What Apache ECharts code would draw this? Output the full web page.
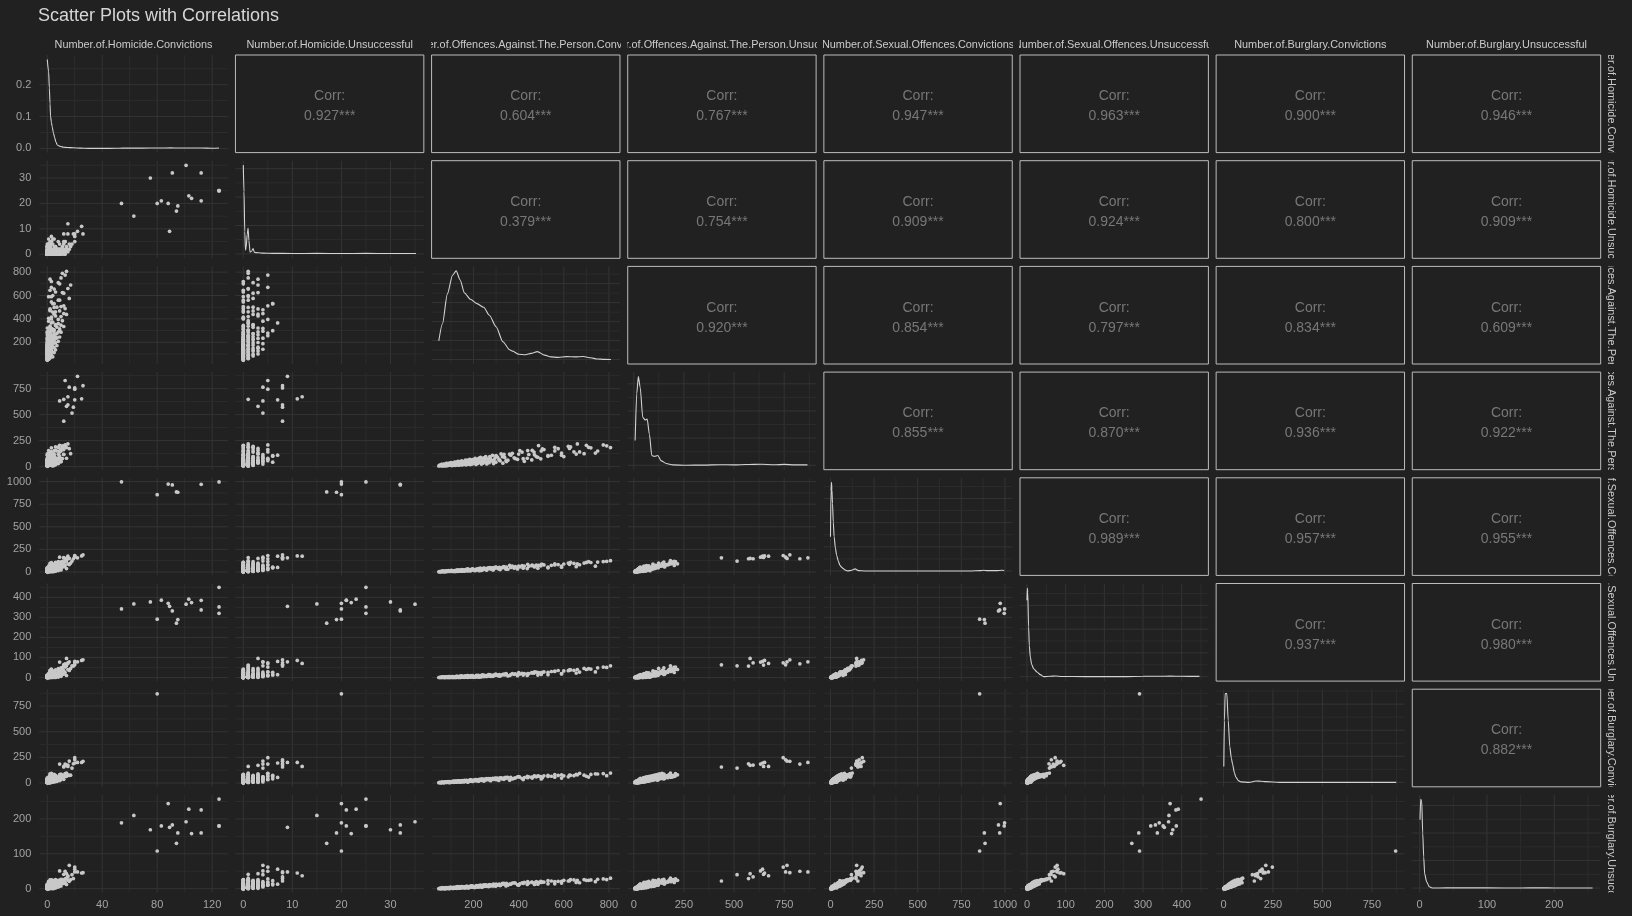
<!DOCTYPE html>
<html><head><meta charset="utf-8">
<script src="https://cdn.jsdelivr.net/npm/echarts@6/dist/echarts.min.js"></script>
<style>html,body{margin:0;padding:0;background:#212121;}#c{width:1632px;height:916px;}</style>
</head><body><div id="c"></div>
<script>
// ---------------- DATA ----------------
const varNames = ['Number.of.Homicide.Convictions','Number.of.Homicide.Unsuccessful',
  'Number.of.Offences.Against.The.Person.Convictions','Number.of.Offences.Against.The.Person.Unsuccessful',
  'Number.of.Sexual.Offences.Convictions','Number.of.Sexual.Offences.Unsuccessful',
  'Number.of.Burglary.Convictions','Number.of.Burglary.Unsuccessful'];

const homicideConvictions = [
  54,63,75,80,83,88,89,91,94,95,101,103,105,112,112,125,125,125,
  12,18,19,14,15,9,20,12,25,15,20,20,16,26,13,22,
  0,0,1,0,0,0,1,0,0,2,0,1,0,0,1,
  0,0,1,0,0,2,0,1,0,0,3,0,1,0,0,2,0,1,0,0,
  1,0,2,0,1,0,3,0,1,0,2,0,4,1,0,
  2,0,3,1,5,0,2,1,4,0,3,6,1,
  2,5,0,1,7,2,0,8,3,1,
  5,9,0,7,2,10,
  3,11,1,6,12,
  4,9,2,13,5,12,
  3,16,4,11,2,
  15,17,3,10,13,14,
  3,5,2,6,1,4,7,2,5,8,3,6,9,4,2,10,5,3,12,6,4,8,3,14,6,2,10,5,8,3,12,5,9,2,11,2,4,0,3,1,
  0,1,0,2,0,1,3,0,1,0, 2,0,1,4,0,2,1,0,3,1, 0,5,2,0,1,3,0,6,2,1, 4,0,7,2,3,1,5,0,9,4, 2,6,8,1,3,10,5,2,7,4, 9,1,6,3,8,0,2,1,0,3];
const homicideUnsuccessful = [
  20,15,30,20,21,20,9,32,17,19,35,23,22,21,32,25,25,25,
  8,4,8,3,8,4,7,1,11,12,5,8,4,8,5,9,
  0,0,0,0,1,0,0,0,0,0,1,0,0,0,2,
  0,0,0,1,0,0,0,0,1,0,0,0,0,2,0,1,0,0,0,1,
  0,0,3,0,0,1,0,0,2,0,0,1,0,0,3,
  0,1,0,0,2,0,1,0,4,0,1,0,2,
  0,1,3,0,2,5,1,0,4,6,
  1,0,3,0,1,2,
  7,1,0,3,4,
  0,2,4,0,1,5,
  0,2,1,3,0,
  1,3,0,1,5,1,
  1,0,2,0,3,0,1,0,2,0,1,3,0,1,2,0,1,4,0,2,1,5,0,2,1,3,0,6,1,0,2,1,0,3,1,0,1,3,0,4,
  0,0,1,0,0,0,2,0,0,1, 0,0,0,1,0,3,0,1,0,0, 2,0,0,1,0,0,4,0,1,0, 0,2,0,1,5,0,0,3,1,0, 2,0,1,4,0,1,3,0,2,6, 0,1,0,5,2,1,0,0,1,0];
const personConvictions = [
  null,null,null,null,null,null,null,null,null,null,null,null,null,null,null,null,null,null,
  null,null,null,null,null,null,null,null,null,null,null,null,null,null,null,null,
  46,50,55,58,62,66,70,73,77,80,84,88,91,95,98,
  101,104,106,109,112,114,117,119,122,124,127,129,132,134,137,139,142,144,147,149,
  152,155,158,161,164,167,170,173,176,179,183,186,190,194,198,
  203,207,211,215,219,223,227,231,235,239,243,247,249,
  254,259,264,269,274,279,284,289,294,299,
  306,314,322,330,338,346,
  365,385,405,425,445,
  458,468,478,488,498,512,
  545,575,600,625,645,
  660,690,720,750,775,807,
  88,112,125,135,148,160,172,185,195,208,221,233,245,258,272,286,300,318,335,352,372,395,415,438,460,485,505,530,560,590,620,655,700,740,790,68,75,100,118,140,
  52,57,63,69,74,79,83,87,92,96, 102,107,111,116,121,126,131,136,141,146, 151,156,162,168,174,181,188,196,205,213, 222,230,238,246,256,266,276,288,298,312, 328,344,360,380,400,420,440,470,500,530, 560,590,630,670,710,60,95,130,175,225];
const personUnsuccessful = [
  null,null,null,null,null,null,null,null,null,null,null,null,null,null,null,null,null,null,
  437,515,572,580,595,632,642,647,652,672,745,757,764,778,828,868,
  6,15,11,22,6,17,10,22,15,30,8,23,13,29,20,
  38,10,28,15,34,23,44,12,32,17,38,26,50,13,36,19,43,29,56,15,
  40,22,47,32,62,17,44,24,53,36,70,19,49,27,59,
  41,79,21,56,31,67,45,88,24,62,34,74,50,
  97,26,69,38,82,56,108,29,76,42,
  92,63,122,33,88,48,
  110,77,154,51,116,
  64,140,96,202,75,164,
  109,172,96,175,142,
  218,124,180,150,208,183,
  30,12,40,18,50,22,60,28,68,32,75,38,85,42,95,48,105,55,118,62,128,70,140,80,155,90,170,100,185,110,195,120,205,130,200,24,6,35,14,45,
  9,18,8,18,16,28,12,24,18,33, 13,29,23,41,19,37,30,45,20,37, 29,48,28,40,59,36,53,29,62,47, 73,41,64,52,79,43,72,58,101,72, 95,58,119,84,120,76,154,113,150,106, 151,130,189,141,185,18,14,47,23,81];
const sexualConvictions = [
  998,null,null,855,null,973,null,963,886,882,null,null,null,null,970,null,null,996,
  157,120,146,150,146,164,175,160,178,175,182,164,150,190,146,157,
  2,4,3,5,6,4,7,5,8,6,9,7,10,8,11,
  9,12,10,7,13,11,8,14,10,12,15,9,13,16,11,14,17,12,18,15,
  13,19,16,20,14,21,17,22,18,24,19,25,21,26,23,
  27,22,29,25,31,24,33,28,35,30,37,32,39,
  34,41,36,43,38,45,40,47,42,49,
  44,51,46,53,48,55,
  50,60,56,65,62,
  70,66,75,72,68,78,
  74,82,88,85,95,
  90,98,105,110,115,125,
  14,5,20,8,25,10,30,12,34,15,38,17,42,20,48,22,52,26,58,30,64,34,70,38,76,42,84,46,90,52,98,58,106,64,118,10,3,16,6,22,
  4,3,8,3,7,13,5,8,12,5, 17,7,11,16,6,14,24,10,17,13, 9,23,16,30,12,24,17,31,16,30, 24,44,19,37,26,45,33,26,54,34, 49,31,72,42,64,42,84,56,85,53, 78,65,107,80,114,9,13,7,35,14];
const sexualUnsuccessful = [
  342,367,377,291,386,370,355,332,271,289,366,391,374,385,337,450,352,320,
  63,58,57,95,73,77,80,62,85,70,73,63,78,88,68,78,
  0,1,0,1,0,2,1,0,1,2,1,0,2,1,3,
  1,2,0,1,3,2,1,4,2,1,3,2,1,4,2,3,1,5,2,3,
  2,4,1,5,3,2,6,3,4,2,5,3,6,4,2,
  5,3,7,4,6,3,8,5,4,7,6,9,5,
  8,6,10,7,9,11,8,12,10,13,
  11,14,12,15,13,16,
  14,18,17,20,19,
  24,22,27,25,23,28,
  30,35,33,38,36,
  40,45,42,48,52,58,
  4,1,6,0,8,2,9,3,10,2,11,4,12,5,14,6,15,7,17,8,19,9,21,10,23,12,26,14,30,18,34,22,40,28,50,3,0,5,1,7,
  0,2,1,0,3,1,2,0,4,1, 2,5,1,3,0,6,2,4,1,7, 3,2,8,4,1,6,9,3,5,11, 4,7,13,5,9,15,6,11,17,8, 14,20,10,16,24,12,19,28,15,26, 32,20,38,27,44,2,0,5,10,2];
const burglaryConvictions = [
  null,null,null,870,null,null,null,null,null,null,null,null,null,null,null,null,null,null,
  156,146,188,172,175,185,195,162,201,162,247,227,214,211,185,201,
  3,4,5,4,6,5,7,6,8,7,9,8,10,9,11,
  10,9,12,11,13,10,14,12,15,11,16,13,17,14,18,12,16,19,15,20,
  17,21,18,14,22,19,23,16,24,20,25,18,26,22,28,
  24,29,21,30,26,32,28,34,25,35,31,37,29,
  38,33,40,35,42,37,44,39,46,41,
  48,43,50,45,52,47,
  54,50,58,53,61,
  57,64,60,67,62,70,
  66,74,70,78,72,
  80,76,84,88,92,97,
  6,18,9,22,12,26,15,30,18,33,20,38,24,42,28,46,32,50,36,55,40,60,44,65,48,70,52,75,56,80,60,85,66,90,72,4,10,7,16,11,
  6,2,8,4,10,5,9,13,6,14, 8,16,7,12,19,9,15,22,10,18, 24,11,20,27,13,23,30,15,26,34, 17,29,38,19,32,42,22,36,47,25, 40,55,28,46,62,33,52,70,40,64, 82,48,75,94,58,9,4,20,8,36];
const burglaryUnsuccessful = [
  189,210,169,108,180,244,176,183,130,160,192,228,158,226,160,257,180,180,
  22,40,29,43,34,51,56,41,45,37,62,48,67,46,50,48,
  0,1,0,1,1,0,2,1,1,2,1,2,1,3,2,
  2,3,2,1,3,2,4,2,3,2,4,3,2,3,4,2,5,3,4,3,
  4,3,5,4,3,6,4,5,3,6,4,5,7,4,6,
  5,7,4,6,8,5,7,6,9,6,8,7,10,
  7,9,8,11,8,10,9,12,10,11,
  10,13,11,14,12,15,
  13,16,14,18,16,
  19,17,20,18,21,19,
  22,21,24,23,25,
  24,26,25,27,28,30,
  3,1,5,2,6,3,7,4,8,5,9,6,11,7,12,8,13,9,15,10,16,11,17,12,18,13,19,14,20,16,22,18,24,20,26,2,0,4,2,5,
  1,0,2,1,0,3,1,2,0,4, 2,1,4,2,3,1,5,3,2,6, 3,5,2,7,4,3,8,5,3,9, 5,10,4,7,11,6,9,13,7,11, 15,8,13,17,10,15,20,12,18,23, 14,21,26,17,24,3,1,6,2,8];

// density curves ([value, density]); 2..8 are relative to their peak
const hcDensity = [[0,0.279],[0.5,0.279],[1,0.24],[1.5,0.19],[2,0.14],[2.4,0.10],[3,0.082],[3.6,0.068],[4.5,0.048],[5.3,0.035],[6.3,0.02],[7.3,0.011],[8.5,0.008],[9.7,0.006],[12,0.004],[14.5,0.003],[19,0.002],[24,0.001],[30,0.0004],[40,0.0003],[50,0.0005],[55,0.0012],[63,0.001],[75,0.0012],[82,0.0015],[90,0.0018],[95,0.0014],[103,0.0015],[112,0.0014],[120,0.0008],[125,0.0015]];
const huDensity = [[0,1.0],[0.15,0.7],[0.3,0.25],[0.45,0.04],[0.6,0.08],[0.8,0.22],[0.97,0.29],[1.15,0.15],[1.37,0.02],[1.7,0.03],[1.98,0.06],[2.3,0.015],[3.1,0.012],[4,0.008],[6,0.006],[10,0.004],[15,0.005],[20,0.004],[25,0.005],[30,0.004],[35.2,0.004]];
const ocDensity = [[46,0.21],[62,0.40],[84,0.74],[107,0.95],[123,1.0],[140,0.90],[160,0.75],[186,0.68],[215,0.63],[245,0.59],[270,0.50],[300,0.37],[330,0.2],[360,0.11],[373,0.095],[400,0.06],[430,0.055],[455,0.07],[483,0.09],[515,0.05],[543,0.03],[575,0.025],[611,0.033],[650,0.03],[687,0.034],[720,0.02],[747,0.007],[780,0.002],[809,0]];
const ouDensity = [[7,0.28],[15,0.81],[23,1.0],[32,0.88],[45,0.54],[57,0.51],[67,0.52],[78,0.35],[90,0.11],[103,0.10],[120,0.11],[137,0.05],[162,0.02],[195,0.004],[262,0.0],[350,0.002],[428,0.006],[500,0.004],[560,0.008],[637,0.012],[700,0.005],[750,0.01],[800,0.004],[866,0.004]];
const scDensity = [[0,0.385],[3,0.9],[5.8,1.0],[8,0.92],[11.6,0.76],[16,0.55],[21,0.385],[28,0.26],[35,0.18],[45,0.11],[54,0.064],[65,0.04],[73.5,0.026],[85,0.01],[99,0],[122,0.008],[141,0.023],[160,0.004],[200,0],[400,0],[600,0],[800,0],[860,0.004],[876,0.008],[900,0.004],[950,0.004],[983,0.008],[996,0.006]];
const suDensity = [[0,0.86],[0.9,1.0],[2,0.95],[4.3,0.56],[6,0.35],[8.7,0.22],[12,0.14],[17.3,0.09],[26,0.053],[34.6,0.023],[43,0],[60,0.004],[74,0.0075],[90,0.002],[150,0],[250,0],[300,0.004],[340,0.005],[370,0.006],[400,0.004],[446,0.003]];
const bcDensity = [[1.7,0.18],[5,0.7],[8.5,1.0],[12,1.0],[17,1.0],[24,0.7],[32,0.40],[40,0.27],[45.7,0.21],[55,0.11],[62.6,0.06],[75,0.02],[88,0.005],[130,0],[164,0.015],[190,0.012],[215,0.008],[283,0],[500,0],[700,0],[873,0]];
const buDensity = [[0.5,0.77],[1.5,1.0],[3,0.98],[4.5,0.62],[6,0.35],[7.4,0.16],[10.4,0.07],[14.4,0.014],[19.4,0],[40,0.002],[100,0.002],[150,0.001],[178,0.003],[200,0.001],[257,0.001]];

// axis ranges and tick values per variable
const axisRanges = [[-5.8,131.3],[-1.6,36.8],[14,849],[-30,909],[-38,1042],[-18,469],[-37,915],[-11,269]];
const majorTicks = [[0,40,80,120],[0,10,20,30],[200,400,600,800],[0,250,500,750],[0,250,500,750,1000],[0,100,200,300,400],[0,250,500,750],[0,100,200]];
const minorTicks = [[20,60,100],[5,15,25,35],[100,300,500,700],[125,375,625,875],[125,375,625,875],[50,150,250,350,450],[125,375,625,875],[50,150,250]];
const hcDensityRange = [-0.013,0.293];
const hcDensityMajor = [0,0.1,0.2];
const hcDensityMinor = [0.05,0.15,0.25];
const relDensityRange = [-0.05,1.05];
const diagGridLines = [null,
  [0,0.16,0.32,0.48,0.64,0.80,0.96],
  [0,0.107,0.214,0.321,0.428,0.535,0.642,0.749,0.856,0.963],
  [0,0.153,0.306,0.459,0.612,0.765,0.918],
  [0,0.136,0.272,0.408,0.544,0.68,0.816,0.952],
  [0,0.134,0.268,0.402,0.536,0.67,0.804,0.938],
  [0,0.147,0.294,0.441,0.588,0.735,0.882,1.029],
  [0,0.155,0.31,0.465,0.62,0.775,0.93]];
const corrText = ['0.927***','0.604***','0.767***','0.947***','0.963***','0.900***','0.946***',
  '0.379***','0.754***','0.909***','0.924***','0.800***','0.909***',
  '0.920***','0.854***','0.797***','0.834***','0.609***',
  '0.855***','0.870***','0.936***','0.922***',
  '0.989***','0.957***','0.955***',
  '0.937***','0.980***',
  '0.882***'];

// ---------------- BUILD ----------------
const vars = [homicideConvictions, homicideUnsuccessful, personConvictions, personUnsuccessful,
  sexualConvictions, sexualUnsuccessful, burglaryConvictions, burglaryUnsuccessful];
const densities = [hcDensity, huDensity, ocDensity, ouDensity, scDensity, suDensity, bcDensity, buDensity];

const FONT = '"Liberation Sans", Arial, sans-serif';
const BG = '#212121', GRID_MAJOR = '#343434', GRID_MINOR = '#2c2c2c';
const POINT = '#c8c8c8', LINE = '#d2d2d2', LABEL = '#a3a3a3', STRIP = '#cbcbcb', CORR = '#777777';
const X0 = 39.3, Y0 = 55, SX = 196.14, SY = 105.7, CW = 188.4, CH = 97.6;

const grids = [], xAxes = [], yAxes = [], series = [];

function gridRender(params, api) {
  const cs = params.coordSys;
  const v = api.value(0), dir = api.value(1), major = api.value(2);
  const style = {stroke: major ? GRID_MAJOR : GRID_MINOR, lineWidth: 1};
  if (dir === 0) {
    const x = api.coord([v, 0])[0];
    return {type: 'line', shape: {x1: x, y1: cs.y, x2: x, y2: cs.y + cs.height}, style};
  }
  const y = api.coord([0, v])[1];
  return {type: 'line', shape: {x1: cs.x, y1: y, x2: cs.x + cs.width, y2: y}, style};
}

function hiddenAxis(k) {
  return {gridIndex: k, type: 'value', min: 0, max: 1, show: false};
}
const plainNum = v => String(v);

let corrIdx = 0;
for (let i = 0; i < 8; i++) {
  for (let j = 0; j < 8; j++) {
    const k = grids.length;
    const upper = j > i, diag = i === j;
    grids.push({left: X0 + j * SX, top: Y0 + i * SY, width: CW, height: CH,
      show: upper, borderColor: '#bdbdbd', borderWidth: 1, backgroundColor: 'transparent'});
    if (upper) {
      xAxes.push(hiddenAxis(k)); yAxes.push(hiddenAxis(k));
      const txt = corrText[corrIdx++];
      series.push({type: 'custom', xAxisIndex: k, yAxisIndex: k, silent: true, data: [[0.5, 0.5]],
        renderItem: (params, api) => {
          const cs = params.coordSys;
          const cx = cs.x + cs.width / 2, cy = cs.y + cs.height / 2;
          return {type: 'group', children: [
            {type: 'text', x: cx, y: cy - 7.5, style: {text: 'Corr:', fill: CORR, font: '14px ' + FONT, align: 'center', verticalAlign: 'middle'}},
            {type: 'text', x: cx, y: cy + 12.5, style: {text: txt, fill: CORR, font: '14px ' + FONT, align: 'center', verticalAlign: 'middle'}}
          ]};
        }});
      continue;
    }
    const xr = axisRanges[j];
    const yr = diag ? (i === 0 ? hcDensityRange : relDensityRange) : axisRanges[i];
    const xLabel = (i === 7) ? {show: true, customValues: majorTicks[j], formatter: plainNum, color: LABEL, fontSize: 11, fontFamily: FONT, margin: 6.5} : {show: false};
    let yLabel = {show: false};
    if (j === 0) {
      yLabel = {show: true, customValues: i === 0 ? hcDensityMajor : majorTicks[i],
        formatter: i === 0 ? (v => v.toFixed(1)) : plainNum, color: LABEL, fontSize: 11, fontFamily: FONT, margin: 8};
    }
    xAxes.push({gridIndex: k, type: 'value', min: xr[0], max: xr[1], axisLine: {show: false}, axisTick: {show: false}, splitLine: {show: false}, axisLabel: xLabel});
    yAxes.push({gridIndex: k, type: 'value', min: yr[0], max: yr[1], axisLine: {show: false}, axisTick: {show: false}, splitLine: {show: false}, axisLabel: yLabel});

    // grid lines
    const gl = [];
    majorTicks[j].forEach(v => gl.push([v, 0, 1]));
    minorTicks[j].forEach(v => gl.push([v, 0, 0]));
    if (diag) {
      if (i === 0) {
        hcDensityMajor.forEach(v => gl.push([v, 1, 1]));
        hcDensityMinor.forEach(v => gl.push([v, 1, 0]));
      } else {
        diagGridLines[i].forEach((v, n) => gl.push([v, 1, n % 2 === 0 ? 1 : 0]));
      }
    } else {
      majorTicks[i].forEach(v => gl.push([v, 1, 1]));
      minorTicks[i].forEach(v => gl.push([v, 1, 0]));
    }
    series.push({type: 'custom', xAxisIndex: k, yAxisIndex: k, silent: true, z: 1, data: gl, renderItem: gridRender});

    if (diag) {
      series.push({type: 'line', xAxisIndex: k, yAxisIndex: k, data: densities[i], showSymbol: false, silent: true, z: 3,
        lineStyle: {color: LINE, width: 1.1}, smooth: 0.25, smoothMonotone: 'x'});
    } else {
      const pts = [];
      const xs = vars[j], ys = vars[i];
      for (let n = 0; n < xs.length; n++) {
        if (xs[n] !== null && ys[n] !== null) pts.push([xs[n], ys[n]]);
      }
      series.push({type: 'scatter', xAxisIndex: k, yAxisIndex: k, data: pts, symbolSize: 3.7, silent: true, z: 3,
        itemStyle: {color: POINT, opacity: 1}});
    }
  }
}

// strips (top: column names, right: row names), clipped to strip box
function addStrip(left, top, width, height, text, rot) {
  const k = grids.length;
  grids.push({left, top, width, height, show: false});
  xAxes.push(hiddenAxis(k)); yAxes.push(hiddenAxis(k));
  series.push({type: 'custom', xAxisIndex: k, yAxisIndex: k, silent: true, clip: true, data: [[0.5, 0.5]],
    renderItem: (params, api) => {
      const cs = params.coordSys;
      return {type: 'text', x: cs.x + cs.width / 2, y: cs.y + cs.height / 2, rotation: rot,
        style: {text, fill: STRIP, font: '10.9px ' + FONT, align: 'center', verticalAlign: 'middle'}};
    }});
}
for (let j = 0; j < 8; j++) addStrip(X0 + j * SX, 37, CW, 16, varNames[j], 0);
for (let i = 0; i < 8; i++) addStrip(1602.5, Y0 + i * SY, 16, CH, varNames[i], -Math.PI / 2);

const chart = echarts.init(document.getElementById('c'), null, {renderer: 'canvas', width: 1632, height: 916});
chart.setOption({
  animation: false,
  backgroundColor: BG,
  title: {text: 'Scatter Plots with Correlations', left: 38, top: 7, padding: 0,
    textStyle: {color: '#d6d6d6', fontSize: 18, fontWeight: 'normal', fontFamily: FONT}},
  grid: grids, xAxis: xAxes, yAxis: yAxes, series
});
</script></body></html>
